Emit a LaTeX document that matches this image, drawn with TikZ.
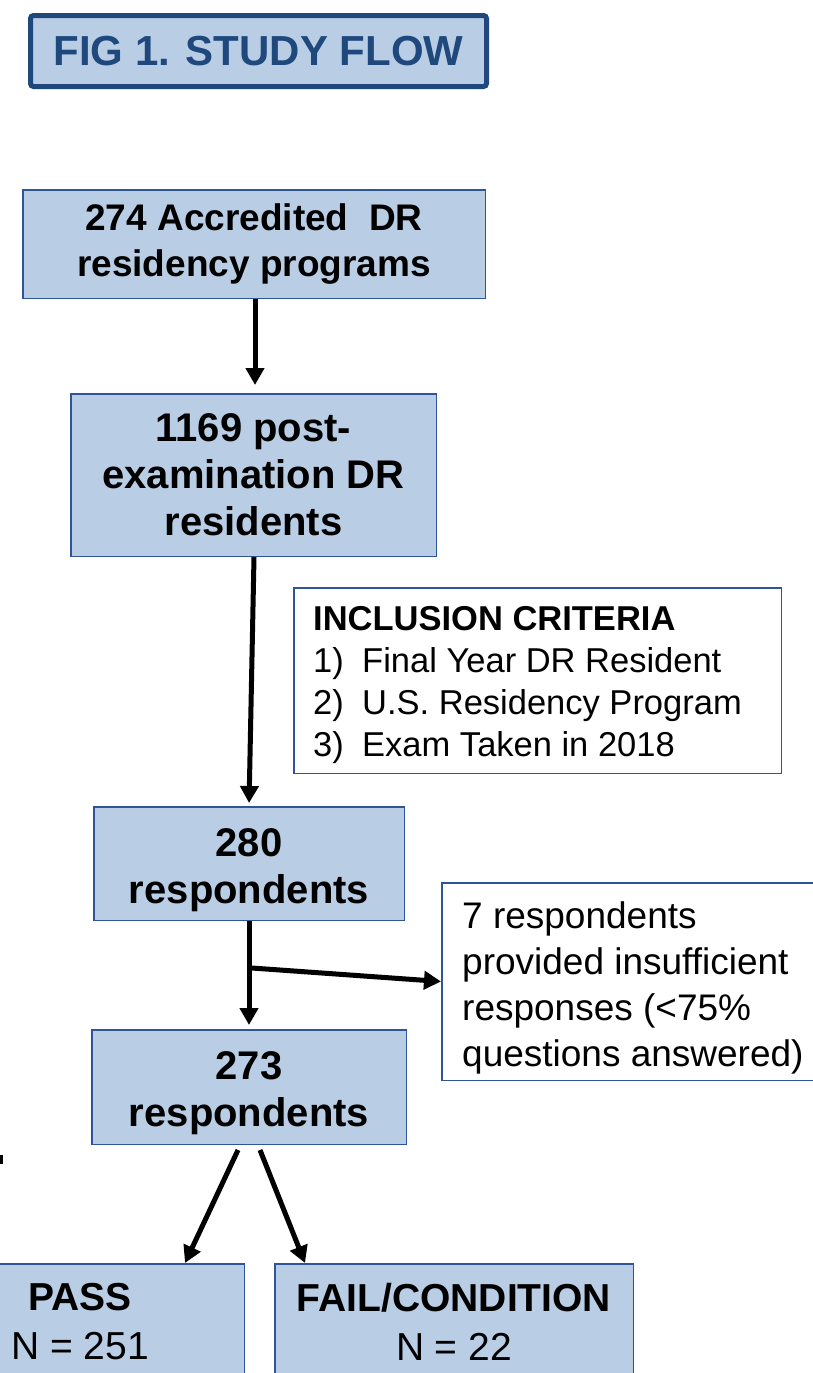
\documentclass[tikz,border=0pt]{standalone}
\usepackage{fontspec}
\setmainfont{Liberation Sans}
\usetikzlibrary{arrows.meta,calc}
\definecolor{boxfill}{HTML}{B9CDE5}
\definecolor{boxline}{HTML}{2F5597}
\definecolor{titleblue}{HTML}{1F497D}
\newcommand{\lowline}[1]{\raisebox{-16pt}[0pt][0pt]{#1}}
\begin{document}
\begin{tikzpicture}[x=1pt,y=-1pt,
  flowbox/.style={draw=boxline,line width=1.5pt,fill=boxfill,inner sep=0pt,align=center,
    font=\fontsize{40}{47}\selectfont\bfseries},
  notebox/.style={draw=boxline,line width=1.5pt,fill=white,inner sep=0pt},
  notetext/.style={anchor=base west,inner sep=0pt,font=\fontsize{34.5}{42}\selectfont},
  extext/.style={anchor=base west,inner sep=0pt,font=\fontsize{37}{46}\selectfont},
  arr/.style={line width=5pt,-{Triangle[width=18pt,length=17pt]}}]
\useasboundingbox (0,0) rectangle (813,1373);
\clip (0,0) rectangle (813,1373);

\node[draw=titleblue,line width=5pt,fill=boxfill,rounded corners=3pt,
  minimum width=456pt,minimum height=71pt,inner sep=0pt,text=titleblue,
  font=\fontsize{42}{50}\selectfont\bfseries] (title) at (258.5,51) {FIG 1. STUDY FLOW};

\node[flowbox,minimum width=462.5pt,minimum height=108.5pt,
  font=\fontsize{37}{46}\selectfont\bfseries] (b1) at (254,244)
  {274 Accredited\ \ DR\\residency programs};
\node[flowbox,minimum width=365.5pt,minimum height=162.5pt] (b2) at (253.5,475)
  {1169 post-\\examination DR\\residents};
\node[notebox,minimum width=487.5pt,minimum height=185.5pt] (inc) at (537.5,680.5) {};
\node[notetext,font=\fontsize{34.5}{42}\selectfont\bfseries] (inc0) at (313,630) {INCLUSION CRITERIA};
\node[notetext] (inc1) at (313,672) {\makebox[49pt][l]{1)}Final Year DR Resident};
\node[notetext] (inc2) at (313,714) {\makebox[49pt][l]{2)}U.S. Residency Program};
\node[notetext] (inc3) at (313,756) {\makebox[49pt][l]{3)}Exam Taken in 2018};

\node[flowbox,minimum width=310.5pt,minimum height=113.5pt] (b3) at (249,863.5)
  {\lowline{280}\\\lowline{respondents}};
\node[notebox,minimum width=392.5pt,minimum height=197.5pt] (excl) at (638,981.5) {};
\node[extext] (ex1) at (462,928) {7 respondents};
\node[extext] (ex2) at (462,974) {provided insufficient};
\node[extext] (ex3) at (462,1020) {responses (<75\%};
\node[extext] (ex4) at (462,1066) {questions answered)};

\node[flowbox,minimum width=314.5pt,minimum height=114.5pt] (b4) at (249,1087)
  {\lowline{273}\\\lowline{respondents}};

\node[flowbox,minimum width=328.5pt,minimum height=115.5pt,
  font=\fontsize{39}{49}\selectfont] (pass) at (80,1321.5)
  {\textbf{PASS}\\N = 251};
\node[flowbox,minimum width=358.5pt,minimum height=115.5pt,
  font=\fontsize{39}{49}\selectfont] (fail) at (454,1321.5)
  {\textbf{FAIL/CONDITION}\\N = 22};

\draw[arr,shorten >=8pt] ($(b1.south)+(1,0)$) -- ($(b2.north)+(1.5,0)$);
\draw[arr,shorten >=3pt] ($(b2.south)+(0.5,0)$) -- (b3.north);
\draw[arr,shorten >=4pt] (b3.south) -- (b4.north);
\coordinate (br) at (252,968);
\draw[arr] (br) -- (excl.west);
\draw[arr] ($(b4.south)+(-11,5)$) -- ($(pass.north)+(105,0)$);
\draw[arr] ($(b4.south)+(11,5)$) -- ($(fail.north)+(-149,0)$);

\fill (0,1155) rectangle (3,1164);
\end{tikzpicture}
\end{document}
